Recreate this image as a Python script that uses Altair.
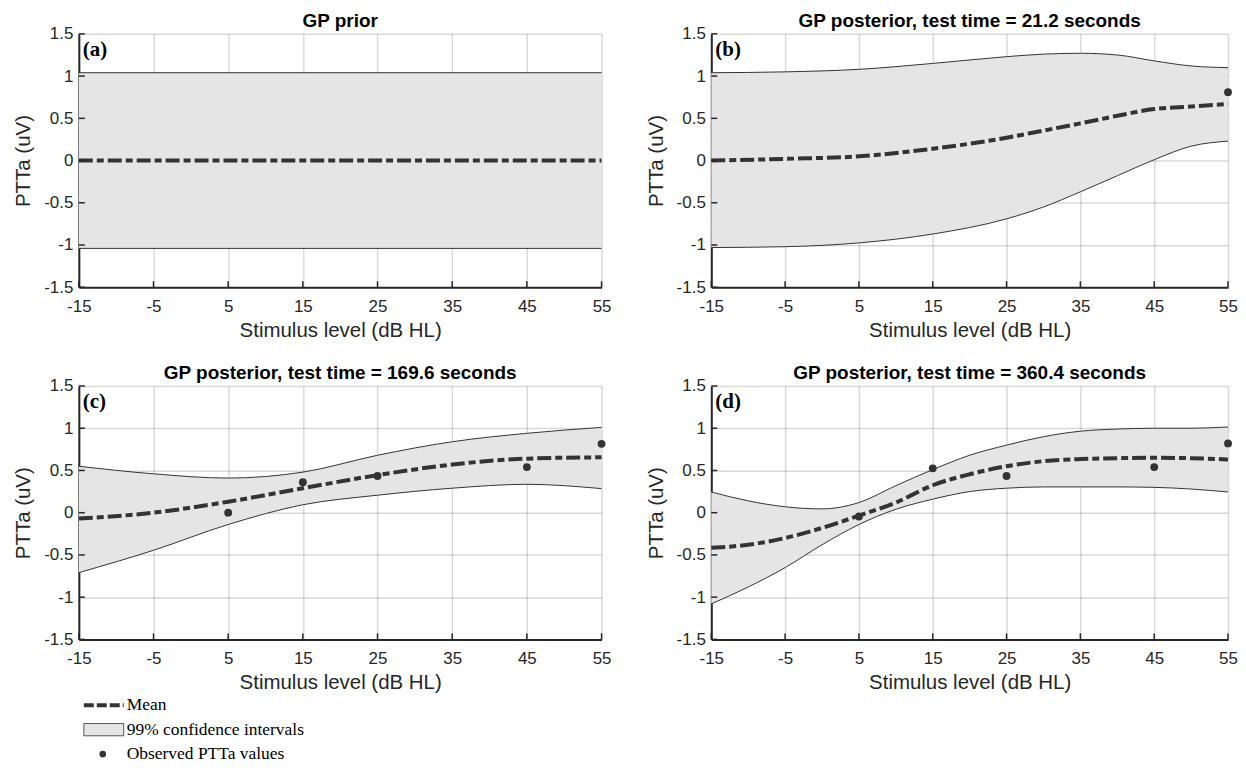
import altair as alt
import pandas as pd

titles = [
    "GP prior",
    "GP posterior, test time = 21.2 seconds",
    "GP posterior, test time = 169.6 seconds",
    "GP posterior, test time = 360.4 seconds",
]
letters = ["(a)", "(b)", "(c)", "(d)"]
x_ticks = [-15, -5, 5, 15, 25, 35, 45, 55]
y_ticks = [-1.5, -1, -0.5, 0, 0.5, 1, 1.5]
legend_labels = ["Mean", "99% confidence intervals", "Observed PTTa values"]
legend_rows = [0, 1, 2]

# (a) prior
a_x = [-15, 55]
a_upper = [1.04, 1.04]
a_mean = [0.0, 0.0]
a_lower = [-1.04, -1.04]
a_obs_x = []
a_obs_y = []

# (b) 21.2 s
b_x = [-15, -5, 5, 15, 25, 30, 35, 40, 45, 50, 55]
b_upper = [1.04, 1.05, 1.08, 1.15, 1.23, 1.26, 1.27, 1.25, 1.18, 1.12, 1.10]
b_mean = [0.0, 0.02, 0.05, 0.14, 0.27, 0.355, 0.44, 0.53, 0.61, 0.64, 0.67]
b_lower = [-1.03, -1.02, -0.975, -0.87, -0.69, -0.55, -0.37, -0.18, 0.01, 0.17, 0.23]
b_obs_x = [55]
b_obs_y = [0.81]

# (c) 169.6 s
c_x = [-15, -5, 5, 15, 25, 35, 45, 55]
c_upper = [0.55, 0.46, 0.41, 0.48, 0.68, 0.84, 0.94, 1.01]
c_mean = [-0.07, 0.0, 0.13, 0.29, 0.445, 0.57, 0.64, 0.656]
c_lower = [-0.71, -0.445, -0.14, 0.094, 0.207, 0.29, 0.336, 0.285]
c_obs_x = [5, 15, 25, 45, 55]
c_obs_y = [0.0, 0.36, 0.435, 0.54, 0.815]

# (d) 360.4 s
d_x = [-15, -10, -5, 0, 5, 10, 15, 20, 25, 30, 35, 40, 45, 50, 55]
d_upper = [0.245, 0.14, 0.07, 0.045, 0.12, 0.32, 0.51, 0.68, 0.80, 0.90, 0.965, 0.99, 1.0, 1.0, 1.015]
d_mean = [-0.415, -0.38, -0.30, -0.18, -0.035, 0.12, 0.325, 0.455, 0.55, 0.61, 0.635, 0.645, 0.65, 0.645, 0.63]
d_lower = [-1.08, -0.88, -0.65, -0.38, -0.14, 0.04, 0.16, 0.25, 0.29, 0.305, 0.305, 0.305, 0.30, 0.28, 0.245]
d_obs_x = [5, 15, 25, 45, 55]
d_obs_y = [-0.045, 0.525, 0.435, 0.54, 0.82]

INK = "#333333"
AXIS_INK = "#262626"
FILL = "#e5e5e5"
H = 254
LABEL_EXPR = "'' + datum.value"

xsc = alt.Scale(domain=[-15, 55], nice=False, zero=False)
ysc = alt.Scale(domain=[-1.5, 1.5], nice=False, zero=False)
xaxis = alt.Axis(values=x_ticks, labelExpr=LABEL_EXPR, labelFlush=False)
yaxis = alt.Axis(values=y_ticks, labelExpr=LABEL_EXPR)


def X(field):
    return alt.X(field, type="quantitative", scale=xsc, axis=xaxis, title="Stimulus level (dB HL)")


def Y(field):
    return alt.Y(field, type="quantitative", scale=ysc, axis=yaxis, title="PTTa (uV)")


def panel(i, xs, up, mean, lo, ox, oy, w, with_legend=False):
    curve = pd.DataFrame({"x": xs, "upper": up, "mean": mean, "lower": lo})
    base = alt.Chart(curve)
    layers = [
        base.mark_area(color=FILL, interpolate="monotone", opacity=1).encode(
            x=X("x"), y=Y("upper"), y2="lower"
        ),
        base.mark_line(color=INK, strokeWidth=1, interpolate="monotone").encode(x=X("x"), y=Y("upper")),
        base.mark_line(color=INK, strokeWidth=1, interpolate="monotone").encode(x=X("x"), y=Y("lower")),
        base.mark_line(
            color=INK, strokeWidth=4, strokeDash=[14, 4, 7, 4], interpolate="monotone"
        ).encode(x=X("x"), y=Y("mean")),
    ]
    if len(ox):
        obs = pd.DataFrame({"x": ox, "y": oy})
        layers.append(
            alt.Chart(obs).mark_circle(size=62, color=INK, opacity=1).encode(x=X("x"), y=Y("y"))
        )
    xt = pd.DataFrame({"x": x_ticks})
    yt = pd.DataFrame({"y": y_ticks})
    layers.append(
        alt.Chart(xt).mark_rule(color=AXIS_INK, strokeWidth=1.5).encode(
            x=X("x"), y=alt.value(H), y2=alt.value(H - 6)
        )
    )
    layers.append(
        alt.Chart(yt).mark_rule(color=AXIS_INK, strokeWidth=1.5).encode(
            y=Y("y"), x=alt.value(0), x2=alt.value(6)
        )
    )
    layers.append(
        alt.Chart(pd.DataFrame({"t": [letters[i]]})).mark_text(
            font="Liberation Serif", fontWeight="bold", fontSize=21, align="left",
            baseline="middle", color="black",
        ).encode(text="t:N", x=alt.value(4), y=alt.value(16))
    )
    main = alt.layer(*layers)
    if with_legend:
        leg = pd.DataFrame({"row": legend_rows, "label": legend_labels})
        lsc = alt.Scale(domain=[0, 2], range=[320, 369], nice=False, zero=False)
        ly = alt.Y("row:Q", scale=lsc, axis=None)
        lbase = alt.Chart(leg)
        legend = alt.layer(
            lbase.transform_filter(alt.datum.row == 0).mark_rule(
                color=INK, strokeWidth=4, strokeDash=[10, 3]
            ).encode(y=ly, x=alt.value(5), x2=alt.value(45)),
            lbase.transform_filter(alt.datum.row == 1)
            .transform_calculate(top="datum.row - 0.25", bot="datum.row + 0.25")
            .mark_rect(fill=FILL, stroke="#555555", strokeWidth=1, opacity=1)
            .encode(y=alt.Y("top:Q", scale=lsc, axis=None), y2="bot:Q", x=alt.value(5), x2=alt.value(45)),
            lbase.transform_filter(alt.datum.row == 2).mark_circle(
                size=45, color=INK, opacity=1
            ).encode(y=ly, x=alt.value(24)),
            lbase.mark_text(
                font="Liberation Serif", fontSize=17.5, align="left", baseline="middle", color="black"
            ).encode(y=ly, x=alt.value(48), text="label:N"),
        )
        main = alt.layer(main, legend).resolve_scale(y="independent")
    return main.properties(width=w, height=H, title=titles[i])


pa = panel(0, a_x, a_upper, a_mean, a_lower, a_obs_x, a_obs_y, 524)
pb = panel(1, b_x, b_upper, b_mean, b_lower, b_obs_x, b_obs_y, 518)
pc = panel(2, c_x, c_upper, c_mean, c_lower, c_obs_x, c_obs_y, 524, with_legend=True)
pd_ = panel(3, d_x, d_upper, d_mean, d_lower, d_obs_x, d_obs_y, 518)

chart = (
    alt.concat(pa, pb, pc, pd_, columns=2, spacing={"row": 99, "column": 110}, bounds="flush")
    .configure(padding={"left": 5, "top": 3, "right": 0, "bottom": 0}, font="Liberation Sans")
    .configure_view(stroke=None)
    .configure_axis(
        domainColor=AXIS_INK, domainWidth=2, gridColor="black", gridOpacity=0.15, gridWidth=1.5,
        ticks=False, labelFont="Liberation Sans", labelFontSize=17, labelColor=AXIS_INK,
        titleFont="Liberation Sans", titleFontSize=20.5, titleFontWeight="normal", titleColor=AXIS_INK,
        zindex=1,
    )
    .configure_axisX(labelPadding=11, titlePadding=6)
    .configure_axisY(labelPadding=6, titlePadding=10)
    .configure_title(font="Liberation Sans", fontSize=19, fontWeight="bold", color="black", offset=-6)
)

chart.save("out.html", embed_options={"renderer": "svg", "actions": False})
